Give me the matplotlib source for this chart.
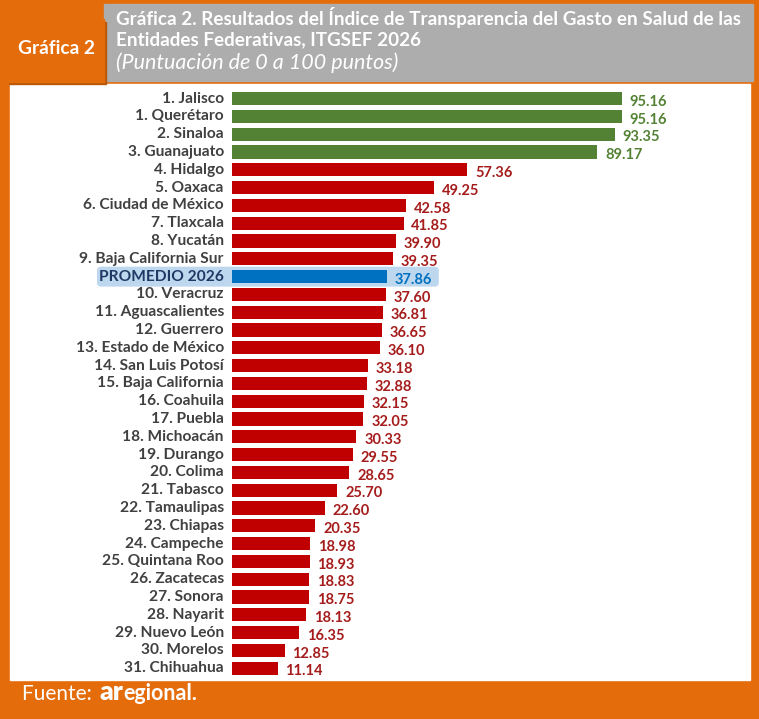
import matplotlib

matplotlib.use("Agg")
import matplotlib.pyplot as plt
from matplotlib.patches import Rectangle, FancyBboxPatch

# data, top to bottom
states = [
    "1. Jalisco", "1. Querétaro", "2. Sinaloa", "3. Guanajuato", "4. Hidalgo",
    "5. Oaxaca", "6. Ciudad de México", "7. Tlaxcala", "8. Yucatán",
    "9. Baja California Sur", "PROMEDIO 2026", "10. Veracruz",
    "11. Aguascalientes", "12. Guerrero", "13. Estado de México",
    "14. San Luis Potosí", "15. Baja California", "16. Coahuila", "17. Puebla",
    "18. Michoacán", "19. Durango", "20. Colima", "21. Tabasco",
    "22. Tamaulipas", "23. Chiapas", "24. Campeche", "25. Quintana Roo",
    "26. Zacatecas", "27. Sonora", "28. Nayarit", "29. Nuevo León",
    "30. Morelos", "31. Chihuahua",
]
scores = [
    95.16, 95.16, 93.35, 89.17, 57.36, 49.25, 42.58, 41.85, 39.90, 39.35,
    37.86, 37.60, 36.81, 36.65, 36.10, 33.18, 32.88, 32.15, 32.05, 30.33,
    29.55, 28.65, 25.70, 22.60, 20.35, 18.98, 18.93, 18.83, 18.75, 18.13,
    16.35, 12.85, 11.14,
]
groups = ["top"] * 4 + ["low"] * 6 + ["avg"] + ["low"] * 22

ORANGE = "#E46C0A"
GRAY = "#ADADAD"
bar_col = {"top": "#548235", "low": "#C00000", "avg": "#0070C0"}
val_col = {"top": "#548235", "low": "#A51C1C", "avg": "#0070C0"}

plt.rcParams["font.family"] = ["Lato", "DejaVu Sans"]

W, H = 759, 719
fig = plt.figure(figsize=(W / 100, H / 100), dpi=100, facecolor=ORANGE)


def box(x0, y0, x1, y1, color, z=0):
    # pixel coords from top-left
    fig.patches.append(Rectangle((x0 / W, 1 - y1 / H), (x1 - x0) / W, (y1 - y0) / H,
                                 transform=fig.transFigure, color=color, zorder=z))


box(10, 84, 750, 680, "white")
box(104, 4, 753, 81, GRAY)
box(9, 22, 106, 84, "#B85708")
box(7, 19, 104, 82, ORANGE)

fig.text(57 / W, 1 - 48 / H, "Gráfica 2", color="white", fontsize=13.8,
         fontweight="bold", ha="center", va="center")
fig.text(116 / W, 1 - 17 / H,
         "Gráfica 2. Resultados del Índice de Transparencia del Gasto en Salud de las",
         color="white", fontsize=13.6, fontweight="bold", va="center")
fig.text(116 / W, 1 - 40 / H, "Entidades Federativas, ITGSEF 2026",
         color="white", fontsize=13.6, fontweight="bold", va="center")
fig.text(116 / W, 1 - 63 / H, "(Puntuación de 0 a 100 puntos)",
         color="white", fontsize=15.5, style="italic", va="center")

# axes: left edge at 232 px, 4.098 px per point
px_per_pt = 4.098
row_px = (676 - 88.8) / len(states)
ax = fig.add_axes([232 / W, 1 - 677 / H, (750 - 232) / W, (677 - 89.8) / H])
ax.set_zorder(5)
ax.set_facecolor("none")
ax.set_xlim(0, (750 - 232) / px_per_pt)
ax.set_ylim(len(states) - 0.5, -0.5)
ax.axis("off")

ypos = list(range(len(states)))
ax.barh(ypos, scores, height=0.74, color=[bar_col[g] for g in groups], zorder=3)

for y, name, v, g in zip(ypos, states, scores, groups):
    ax.text(v + 1.9, y + 0.18, f"{v:.2f}", color=val_col[g], fontsize=10.5,
            fontweight="bold", va="center", ha="left", zorder=4)
    ax.text(-2.0, y, name, color="#203864" if g == "avg" else "#404040",
            fontsize=11.2, fontweight="bold", va="center", ha="right", zorder=4)
    if g == "avg":
        x0 = -(232 - 97) / px_per_pt
        hl = FancyBboxPatch((x0, y - 0.56), v + 12.6 - x0, 1.12,
                            boxstyle="round,pad=0,rounding_size=1.0",
                            mutation_aspect=px_per_pt / row_px,
                            facecolor="#BDD7EE", edgecolor="none",
                            transform=ax.transData, clip_on=False, zorder=1)
        ax.add_patch(hl)

# footer
t1 = fig.text(22 / W, 1 - 694 / H, "Fuente: ", color="white", fontsize=15, va="center")
fig.canvas.draw()
r = fig.canvas.get_renderer()
ext = t1.get_window_extent(r)
t2 = fig.text(ext.x1 / W + 2 / W, 1 - 692 / H, "ar", color="white", fontsize=19,
              fontweight="heavy", va="center")
ext2 = t2.get_window_extent(r)
fig.text(ext2.x1 / W, 1 - 694 / H, "egional.", color="white", fontsize=15.5,
         fontweight="bold", va="center")

fig.savefig("out.png", dpi=100, facecolor=ORANGE)
